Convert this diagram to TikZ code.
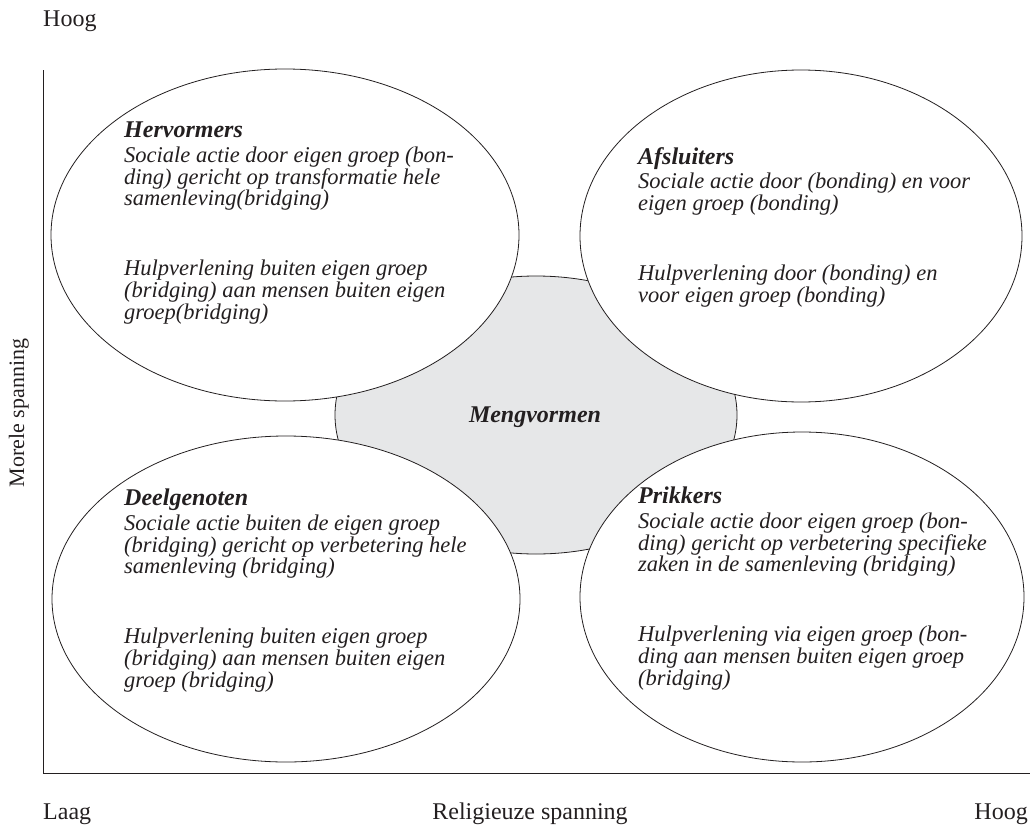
\documentclass[tikz,border=0pt]{standalone}
\usepackage{fontspec}
\setmainfont{Liberation Serif}
\usepackage{xcolor}
\usetikzlibrary{shapes.geometric}
\definecolor{inkt}{HTML}{231F20}
\definecolor{mengkleur}{HTML}{E6E7E8}
\tikzset{
	vorm/.style={
			draw=inkt, line width=0.8pt, ellipse, fill=white, inner sep=0pt
		},
	tekst/.style={
			anchor=base west, align=left, inner sep=0pt, text=inkt,
			font=\fontsize{22.5}{21.7}\selectfont\itshape
		},
	as/.style={
			inner sep=0pt, text=inkt, font=\fontsize{24}{28}\selectfont
		}
}
\newcommand{\kop}[1]{{\fontsize{24}{21.7}\selectfont\bfseries #1}}

\begin{document}
\begin{tikzpicture}[x=1pt,y=-1pt]
            \useasboundingbox (0,0) rectangle (1030,827);
            \coordinate (boven) at (43,70);
            \coordinate (oorsprong) at (43,773);
            \coordinate (rechts) at (1030,773);
            \draw[inkt, line width=0.8pt] (boven) -- (oorsprong) -- (rechts);
            \node[vorm, fill=mengkleur, minimum width=402pt, minimum height=278pt] (meng) at (536,415) {};
            \node[vorm, minimum width=468pt, minimum height=332pt] (herv) at (285,235) {};
            \node[vorm, minimum width=442pt, minimum height=332pt] (afsl) at (801,236) {};
            \node[vorm, minimum width=468pt, minimum height=326pt] (deel) at (286,599) {};
            \node[vorm, minimum width=444pt, minimum height=330pt] (prik) at (802,597) {};
            \node[tekst] (herv-t) at (124,319) {\kop{Hervormers}\\[3pt]
                Sociale actie door eigen groep (bon-\\
                ding) gericht op transformatie hele\\
                samenleving(bridging)\\[48pt]
                Hulpverlening buiten eigen groep\\
                (bridging) aan mensen buiten eigen\\
                groep(bridging)};
            \node[tekst] (afsl-t) at (638,302) {\kop{Afsluiters}\\[3pt]
                Sociale actie door (bonding) en voor\\
                eigen groep (bonding)\\[48pt]
                Hulpverlening door (bonding) en\\
                voor eigen groep (bonding)};
            \node[tekst] (deel-t) at (124,687) {\kop{Deelgenoten}\\[3pt]
                Sociale actie buiten de eigen groep\\
                (bridging) gericht op verbetering hele\\
                samenleving (bridging)\\[48pt]
                Hulpverlening buiten eigen groep\\
                (bridging) aan mensen buiten eigen\\
                groep (bridging)};
            \node[tekst] (prik-t) at (638,685) {\kop{Prikkers}\\[3pt]
                Sociale actie door eigen groep (bon-\\
                ding) gericht op verbetering specifieke\\
                zaken in de samenleving (bridging)\\[48pt]
                Hulpverlening via eigen groep (bon-\\
                ding aan mensen buiten eigen groep\\
                (bridging)};
            \node[tekst, anchor=base] (meng-t) at (535,422) {\kop{Mengvormen}};
            \node[as, anchor=base west] (hoog-y) at (43,26) {Hoog};
            \node[as, anchor=base, rotate=90, font=\fontsize{22}{26}\selectfont] (as-y) at (24,413) {Morele spanning};
            \node[as, anchor=base west] (laag-x) at (43,819) {Laag};
            \node[as, anchor=base] (as-x) at (530,819) {Religieuze spanning};
            \node[as, anchor=base east] (hoog-x) at (1028,819) {Hoog};
        \end{tikzpicture}
\end{document}
